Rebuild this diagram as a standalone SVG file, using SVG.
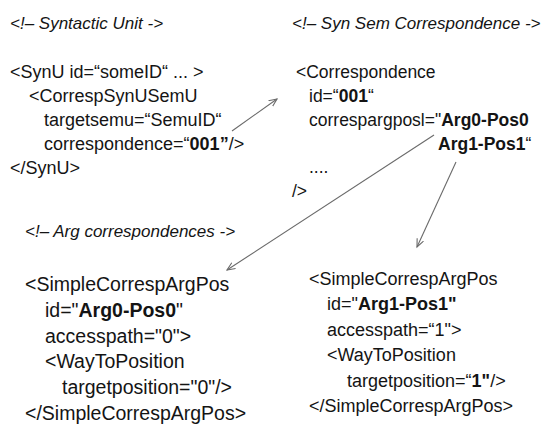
<svg xmlns="http://www.w3.org/2000/svg" width="542" height="425" viewBox="0 0 542 425">
<defs>
<style>
text{font-family:"Liberation Sans",Arial,sans-serif;fill:#141414;}
.c{font-style:italic;font-size:17px;}
.t1{font-size:18px;}
.t2{font-size:17.5px;}
.t3{font-size:19.5px;}
.t4{font-size:18px;}
.b{font-weight:bold;}
.ln{stroke:#6a6a6a;stroke-width:1.1;fill:none;}
</style>
<marker id="ah" markerWidth="10" markerHeight="10" refX="8" refY="4" orient="auto" markerUnits="userSpaceOnUse">
<path d="M0,0.5 L8,4 L0,7.5" fill="none" stroke="#6a6a6a" stroke-width="1.1"/>
</marker>
</defs>
<rect width="542" height="425" fill="#fff"/>
<g id="syntactic-unit">
<text class="c" x="10" y="29">&lt;!– Syntactic Unit -&gt;</text>
<text class="t1" x="10" y="78">&lt;SynU id=“someID“ ... &gt;</text>
<text class="t1" x="29" y="102">&lt;CorrespSynUSemU</text>
<text class="t1" x="44" y="126">targetsemu=“SemuID“</text>
<text class="t1" x="44" y="150">correspondence=“<tspan class="b">001”</tspan>/&gt;</text>
<text class="t1" x="10" y="174">&lt;/SynU&gt;</text>
</g>
<g id="correspondence">
<text class="c" x="292" y="29">&lt;!– Syn Sem Correspondence -&gt;</text>
<text class="t2" x="296" y="78">&lt;Correspondence</text>
<text class="t2" x="309" y="102">id=“<tspan class="b">001</tspan>“</text>
<text class="t2" x="309" y="126">correspargposl="<tspan class="b">Arg0-Pos0</tspan></text>
<text class="t2 b" x="438" y="150">Arg1-Pos1<tspan font-weight="normal">“</tspan></text>
<text class="t2" x="309" y="173">....</text>
<text class="t2" x="292" y="197">/&gt;</text>
</g>
<g id="arg0-pos0">
<text class="c" x="25" y="237">&lt;!– Arg correspondences -&gt;</text>
<text class="t3" x="25" y="291">&lt;SimpleCorrespArgPos</text>
<text class="t3" x="45" y="317">id="<tspan class="b">Arg0-Pos0</tspan>"</text>
<text class="t3" x="45" y="343">accesspath="0"&gt;</text>
<text class="t3" x="45" y="368">&lt;WayToPosition</text>
<text class="t3" x="62" y="394">targetposition="0"/&gt;</text>
<text class="t3" x="25" y="420">&lt;/SimpleCorrespArgPos&gt;</text>
</g>
<g id="arg1-pos1">
<text class="t4" x="309" y="285">&lt;SimpleCorrespArgPos</text>
<text class="t4" x="327" y="310">id="<tspan class="b">Arg1-Pos1"</tspan></text>
<text class="t4" x="327" y="336">accesspath=“1"&gt;</text>
<text class="t4" x="327" y="361">&lt;WayToPosition</text>
<text class="t4" x="347" y="387">targetposition=“<tspan class="b">1"</tspan>/&gt;</text>
<text class="t4" x="309" y="412">&lt;/SimpleCorrespArgPos&gt;</text>
</g>
<g id="connectors">
<line class="ln" x1="232" y1="131" x2="277" y2="99" marker-end="url(#ah)"/>
<line class="ln" x1="434" y1="135" x2="227" y2="270" marker-end="url(#ah)"/>
<line class="ln" x1="456" y1="162" x2="417" y2="247" marker-end="url(#ah)"/>
</g>
</svg>
